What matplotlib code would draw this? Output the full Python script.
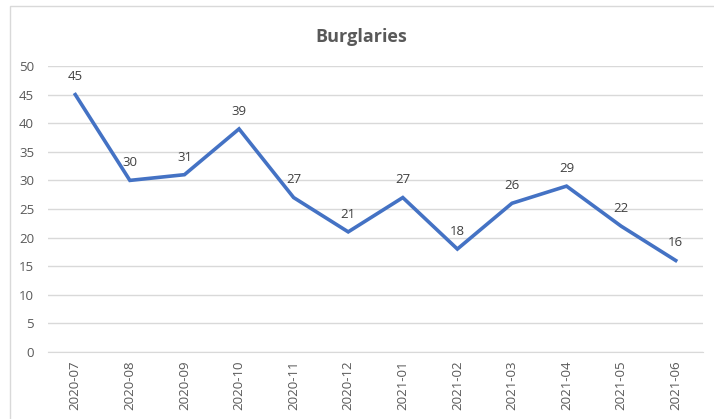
import matplotlib
matplotlib.use('Agg')
import matplotlib.pyplot as plt
from matplotlib.patches import Rectangle

# data
months = ['2020-07', '2020-08', '2020-09', '2020-10', '2020-11', '2020-12',
          '2021-01', '2021-02', '2021-03', '2021-04', '2021-05', '2021-06']
burglaries = [45, 30, 31, 39, 27, 21, 27, 18, 26, 29, 22, 16]
y_ticks = [0, 5, 10, 15, 20, 25, 30, 35, 40, 45, 50]

plt.rcParams['font.family'] = ['Open Sans', 'DejaVu Sans']
W, H = 714, 419
fig = plt.figure(figsize=(W / 100, H / 100), dpi=100)
fig.patch.set_facecolor('white')

# outer chart border (Excel style)
fig.patches.append(Rectangle((9.5 / W, -0.05), 1.1, 1 - 6.5 / H + 0.05,
                             transform=fig.transFigure, fill=False,
                             edgecolor='#D9D9D9', linewidth=1))

ax = fig.add_axes([48 / W, 1 - 352 / H, (703 - 48) / W, (352 - 66) / H])
x = list(range(len(months)))
ax.plot(x, burglaries, color='#4472C4', linewidth=2.6, solid_joinstyle='miter')
for xi, v in zip(x, burglaries):
    ax.annotate(str(v), (xi, v), xytext=(0, 8), textcoords='offset points',
                ha='center', va='bottom', fontsize=9.5, color='#404040')

ax.set_xlim(-0.5, len(months) - 0.5)
ax.set_ylim(0, 50)
ax.set_yticks(y_ticks)
ax.set_xticks(x)
ax.set_xticklabels(months, rotation=90)
ax.grid(axis='y', color='#D9D9D9', linewidth=1)
ax.set_axisbelow(True)
for s in ['top', 'right', 'left']:
    ax.spines[s].set_visible(False)
ax.spines['bottom'].set_color('#D9D9D9')
ax.tick_params(axis='both', length=0, labelsize=9.5, labelcolor='#595959')
ax.tick_params(axis='y', pad=10)
ax.tick_params(axis='x', pad=6)

fig.text(361 / W, 1 - 37 / H, 'Burglaries', ha='center', va='center',
         fontsize=13, fontweight='bold', color='#595959')

fig.savefig('out.png', dpi=100)
